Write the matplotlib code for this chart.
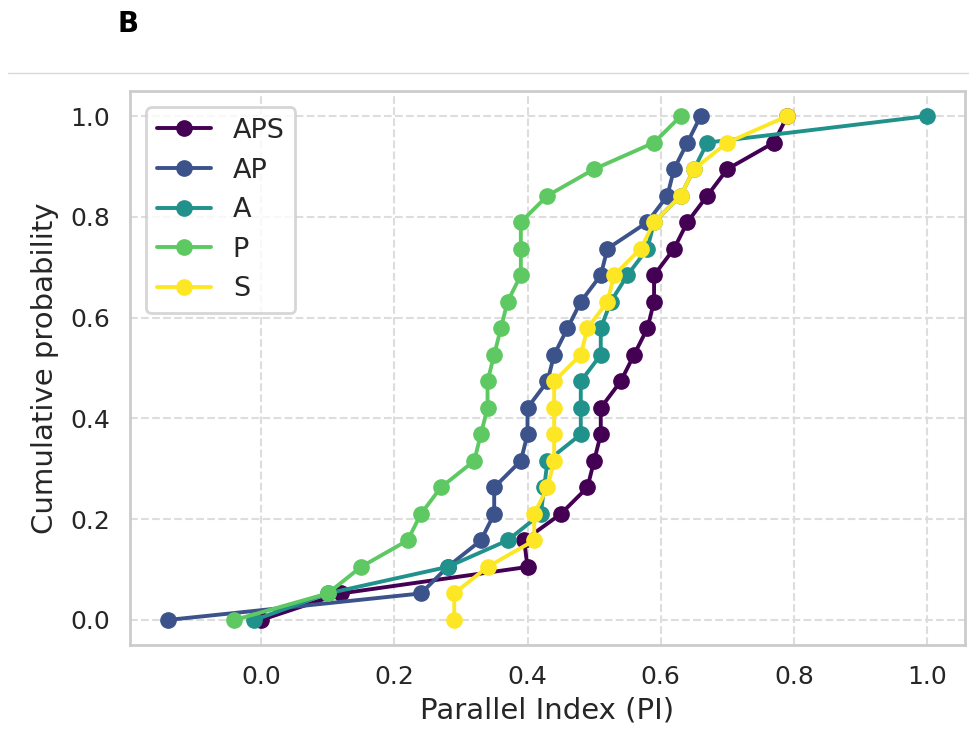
import numpy as np
import matplotlib.pyplot as plt
import seaborn as sns
from matplotlib.lines import Line2D

# Parallel index values per condition (sorted)
aps = [0.0, 0.12, 0.40, 0.395, 0.45, 0.49, 0.50, 0.51, 0.51, 0.54,
       0.56, 0.58, 0.59, 0.59, 0.62, 0.64, 0.67, 0.70, 0.77, 0.79]
ap = [-0.14, 0.24, 0.28, 0.33, 0.35, 0.35, 0.39, 0.40, 0.40, 0.43,
      0.44, 0.46, 0.48, 0.51, 0.52, 0.58, 0.61, 0.62, 0.64, 0.66]
a = [-0.01, 0.10, 0.28, 0.37, 0.42, 0.425, 0.43, 0.48, 0.48, 0.48,
     0.51, 0.51, 0.525, 0.55, 0.58, 0.59, 0.63, 0.65, 0.67, 1.0]
p = [-0.04, 0.10, 0.15, 0.22, 0.24, 0.27, 0.32, 0.33, 0.34, 0.34,
     0.35, 0.36, 0.37, 0.39, 0.39, 0.39, 0.43, 0.50, 0.59, 0.63]
s = [0.29, 0.29, 0.34, 0.41, 0.41, 0.43, 0.44, 0.44, 0.44, 0.44,
     0.48, 0.49, 0.52, 0.53, 0.57, 0.59, 0.63, 0.65, 0.70, 0.79]

labels = ['APS', 'AP', 'A', 'P', 'S']
series = [aps, ap, a, p, s]
colors = ['#440154', '#3b528b', '#21918c', '#5ec962', '#fde725']

sns.set_theme(style='whitegrid')
plt.rcParams['font.family'] = ['DejaVu Sans']

fig = plt.figure(figsize=(9.69, 7.45), dpi=100)
ax = fig.add_axes([0.134, 0.134, 0.862, 0.744])

for vals, lab, col in zip(series, labels, colors):
    n = len(vals)
    y = np.arange(n) / (n - 1)
    ax.plot(vals, y, marker='o', color=col, lw=2.8, ms=11, label=lab)

ax.grid(True, linestyle='--', color='#dddddd', lw=1.5)
for sp in ax.spines.values():
    sp.set_color('#cccccc')
    sp.set_linewidth(2)

ax.set_xticks([0.0, 0.2, 0.4, 0.6, 0.8, 1.0])
ax.set_yticks([0.0, 0.2, 0.4, 0.6, 0.8, 1.0])
ax.tick_params(labelsize=18, colors='#262626', pad=8)
ax.set_xlabel('Parallel Index (PI)', fontsize=21, color='#262626', labelpad=6)
ax.set_ylabel('Cumulative probability', fontsize=21, color='#262626', labelpad=8)

leg = ax.legend(loc='upper left', fontsize=19.5, frameon=True, handlelength=2.0,
                borderaxespad=0.6)
leg.get_frame().set_edgecolor('#cccccc')
leg.get_frame().set_linewidth(2)

fig.text(0.121, 0.968, 'B', fontsize=20, fontweight='heavy', va='center',
         color='black')
fig.add_artist(Line2D([0.008, 1.0], [0.902, 0.902], color='#d9d9d9', lw=1,
                      transform=fig.transFigure))

fig.savefig('out.png', dpi=100)
